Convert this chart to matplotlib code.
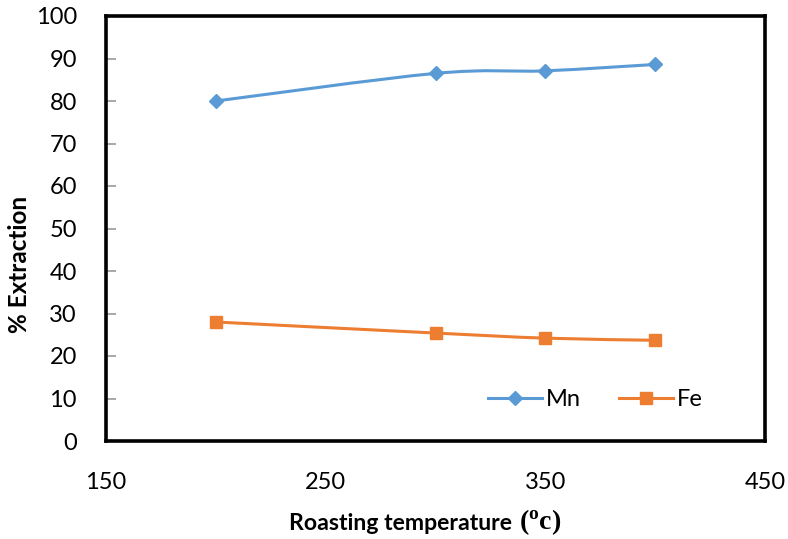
import numpy as np
import matplotlib
matplotlib.use("Agg")
import matplotlib.pyplot as plt
from matplotlib.path import Path
from matplotlib.patches import PathPatch
from matplotlib.lines import Line2D

# ── Data ──────────────────────────────────────────────────────────────────────
temps = [200, 300, 350, 400]
mn_extraction = [80.0, 86.5, 87.1, 88.6]
fe_extraction = [28.0, 25.4, 24.2, 23.7]

MN_COLOR = "#5B9BD5"
FE_COLOR = "#ED7D31"

plt.rcParams['font.family'] = ['Lato', 'DejaVu Sans']


def smooth_path(xs, ys):
    # Excel-style smoothed line: cubic Bezier with 1/6 tangent control points
    pts = np.column_stack([xs, ys]).astype(float)
    n = len(pts)
    verts = [pts[0]]
    codes = [Path.MOVETO]
    for i in range(n - 1):
        p_prev = pts[i - 1] if i > 0 else pts[i]
        p_next2 = pts[i + 2] if i + 2 < n else pts[i + 1]
        c1 = pts[i] + (pts[i + 1] - p_prev) / 6
        c2 = pts[i + 1] - (p_next2 - pts[i]) / 6
        verts += [c1, c2, pts[i + 1]]
        codes += [Path.CURVE4] * 3
    return Path(verts, codes)


W, H = 788, 539
fig = plt.figure(figsize=(W / 100, H / 100), dpi=100)
ax = fig.add_axes([106 / W, 1 - 441 / H, (765 - 106) / W, (441 - 16) / H])

for ys, color, marker, ms in [(mn_extraction, MN_COLOR, "D", 7),
                              (fe_extraction, FE_COLOR, "s", 8.5)]:
    ax.add_patch(PathPatch(smooth_path(temps, ys), facecolor="none",
                           edgecolor=color, lw=2.2, zorder=2))
    ax.plot(temps, ys, linestyle="none", marker=marker, markersize=ms,
            color=color, zorder=3)

ax.set_xlim(150, 450)
ax.set_ylim(0, 100)
ax.set_xticks([150, 250, 350, 450])
ax.set_yticks(np.arange(0, 101, 10))

for s in ax.spines.values():
    s.set_linewidth(2.6)
    s.set_color("black")

ax.tick_params(axis="x", length=0, pad=22, labelsize=17)
ax.tick_params(axis="y", direction="in", length=7, width=1.2,
               color="#999999", pad=21, labelsize=17)

# axis titles
fig.text(20 / W, 1 - 264 / H, "% Extraction", rotation=90,
         ha="center", va="center", fontsize=17.5, fontweight="bold")
fig.text(518 / W, 1 - 523 / H, "Roasting temperature ", ha="right",
         va="center", fontsize=16.6, fontweight="bold")
fig.text(519 / W, 1 - 522 / H, r"($\mathregular{^o}$c)", ha="left",
         va="center", fontsize=20, fontweight="bold",
         family="Liberation Serif")

handles = [
    Line2D([], [], color=MN_COLOR, lw=2.2, marker="D", markersize=7),
    Line2D([], [], color=FE_COLOR, lw=2.2, marker="s", markersize=8.5),
]
ax.legend(handles, ["Mn", "Fe"], loc="center left", ncol=2, frameon=False,
          fontsize=17, bbox_to_anchor=((488 - 106) / (765 - 106), (441 - 400) / 425),
          handlelength=2.3, columnspacing=1.6, handletextpad=0.15,
          borderpad=0, borderaxespad=0)

fig.savefig("out.png", dpi=100)
